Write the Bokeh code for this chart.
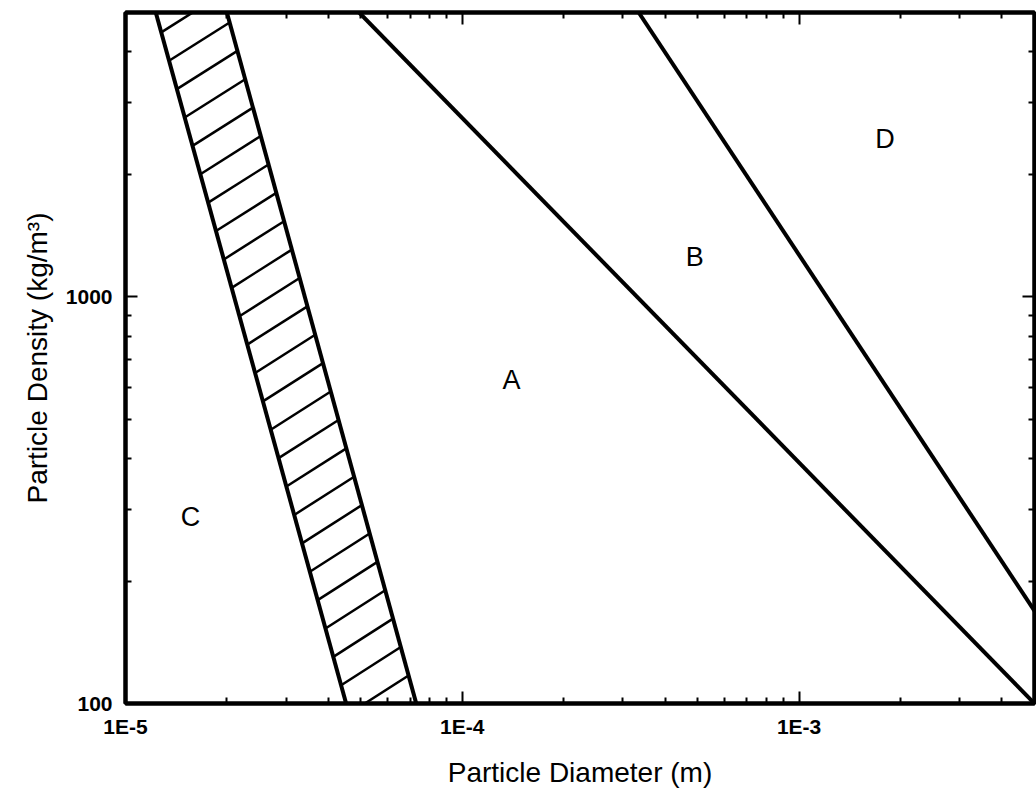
import numpy as np
from bokeh.plotting import figure
from bokeh.models import (FixedTicker, LogAxis, PrintfTickFormatter, Range1d,
                          ColumnDataSource)
from bokeh.core.properties import value
from bokeh.embed import file_html
from bokeh.resources import INLINE

# ---------------- data ----------------
x_limits = [1e-5, 5e-3]          # particle diameter (m)
y_limits = [100, 5000]           # particle density (kg/m3)

# A/B boundary
ab_d = [4.94e-5, 5.0e-3]
ab_rho = [5000, 100]
# B/D boundary
bd_d = [3.34e-4, 5.0e-3]
bd_rho = [5000, 169]
# C/A transition band (hatched)
ca_left_d = [1.23e-5, 4.52e-5]
ca_left_rho = [5000, 100]
ca_right_d = [2.0e-5, 7.3e-5]
ca_right_rho = [5000, 100]
hatch_count = 27
hatch_top_log_rho = 3.72
hatch_step_log = 0.0698
hatch_rise_log = 0.094

# region labels
label_text = ["A", "B", "C", "D"]
label_d = [1.40e-4, 4.90e-4, 1.56e-5, 1.80e-3]
label_rho = [625, 1255, 287, 2437]

# ticks
x_major = [1e-5, 1e-4, 1e-3]
x_major_labels = ["1E-5", "1E-4", "1E-3"]
y_major = [100, 1000]
x_minor = [k * 10.0 ** e for e in (-5, -4, -3) for k in range(2, 10) if k * 10.0 ** e < 5e-3]
y_minor = [k * 10 ** e for e in (2, 3) for k in range(2, 10) if k * 10 ** e < 5000]

# ---------------- hatch segments from band boundaries ----------------
def d_on(line_d, line_rho, log_rho):
    lr = np.log10(line_rho)[::-1]
    ld = np.log10(line_d)[::-1]
    slope = (ld[1] - ld[0]) / (lr[1] - lr[0])
    return 10 ** (ld[0] + slope * (log_rho - lr[0]))

h_left_log = np.array([hatch_top_log_rho - i * hatch_step_log for i in range(hatch_count)])
h_right_log = h_left_log + hatch_rise_log
hx0 = d_on(ca_left_d, ca_left_rho, h_left_log)
hy0 = 10 ** h_left_log
hx1 = d_on(ca_right_d, ca_right_rho, h_right_log)
hy1 = 10 ** h_right_log

# ---------------- figure ----------------
p = figure(width=1036, height=790, x_axis_type="log", y_axis_type="log",
           x_range=Range1d(*x_limits), y_range=Range1d(*y_limits),
           output_backend="svg", toolbar_location=None,
           min_border_left=125, min_border_right=2, min_border_top=12, min_border_bottom=87,
           background_fill_color="white", border_fill_color="white")
p.grid.visible = False
p.outline_line_color = "black"
p.outline_line_width = 4

def style_axis(ax, labels=True):
    ax.axis_line_color = "black"
    ax.axis_line_width = 4
    ax.major_tick_line_color = "black"
    ax.major_tick_line_width = 2
    ax.minor_tick_line_color = "black"
    ax.minor_tick_line_width = 2
    ax.major_tick_in = 12
    ax.major_tick_out = 0
    ax.minor_tick_in = 6
    ax.minor_tick_out = 0
    if labels:
        ax.major_label_text_font = "Liberation Sans"
        ax.major_label_text_font_size = "21px"
        ax.major_label_text_font_style = "bold"
        ax.major_label_text_color = "black"
        ax.axis_label_text_font = "Liberation Sans"
        ax.axis_label_text_font_size = "28px"
        ax.axis_label_text_font_style = "normal"
        ax.axis_label_text_color = "black"
    else:
        ax.major_label_text_font_size = "2px"
        ax.major_label_text_alpha = 0
        ax.major_label_standoff = 0

p.xaxis.ticker = FixedTicker(ticks=x_major, minor_ticks=x_minor)
p.yaxis.ticker = FixedTicker(ticks=y_major, minor_ticks=y_minor)
p.xaxis.major_label_overrides = {v: s for v, s in zip(x_major, x_major_labels)}
p.yaxis.formatter = PrintfTickFormatter(format="%d")
p.xaxis.axis_label = "Particle Diameter (m)"
p.yaxis.axis_label = "Particle Density (kg/m\u00b3)"
style_axis(p.xaxis[0])
style_axis(p.yaxis[0])
p.xaxis.major_label_standoff = 11
p.xaxis.axis_label_standoff = 16
p.yaxis.major_label_standoff = 13
p.yaxis.axis_label_standoff = 10

top_ax = LogAxis(ticker=FixedTicker(ticks=x_major, minor_ticks=x_minor))
style_axis(top_ax, labels=False)
p.add_layout(top_ax, "above")
right_ax = LogAxis(ticker=FixedTicker(ticks=y_major, minor_ticks=y_minor))
style_axis(right_ax, labels=False)
p.add_layout(right_ax, "right")

# boundaries
for d_vals, rho_vals in [(ab_d, ab_rho), (bd_d, bd_rho),
                         (ca_left_d, ca_left_rho), (ca_right_d, ca_right_rho)]:
    p.line(d_vals, rho_vals, line_color="black", line_width=4)
p.segment(x0=hx0, y0=hy0, x1=hx1, y1=hy1, line_color="black", line_width=2.5)

# region labels
src = ColumnDataSource(dict(x=label_d, y=label_rho, t=label_text))
p.text(x="x", y="y", text="t", source=src, text_font=value("Liberation Sans"),
       text_font_size="27px", text_align="center", text_baseline="middle",
       text_color="black")

open("out.html", "w").write(file_html(p, INLINE))
